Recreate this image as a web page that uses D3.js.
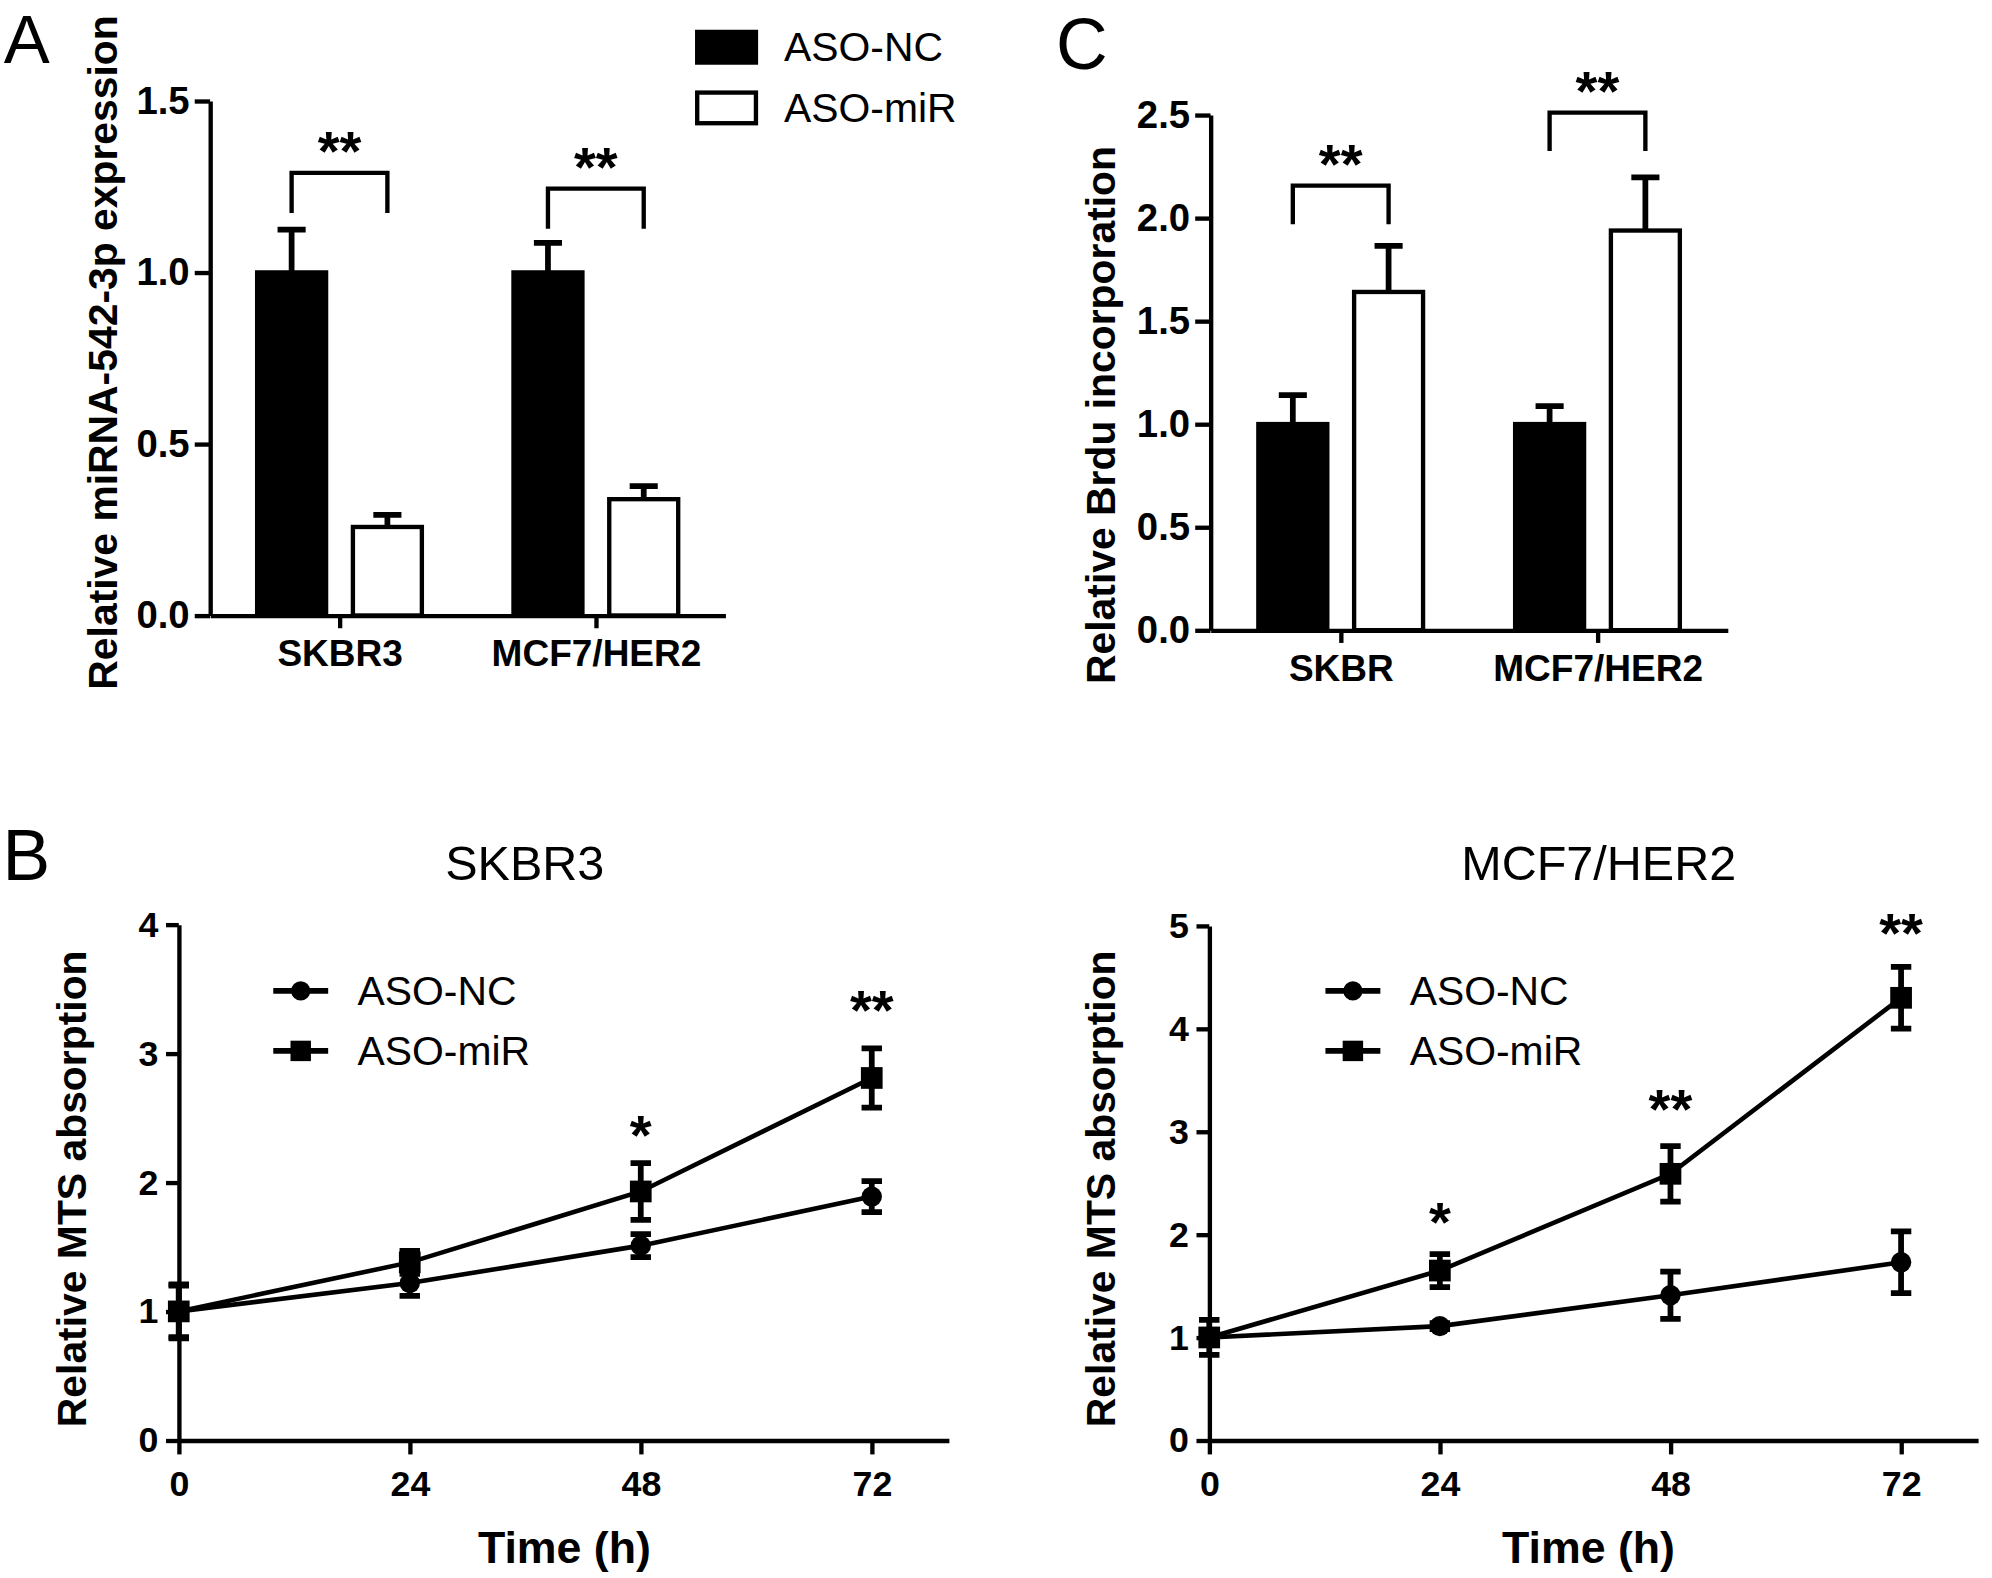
<!DOCTYPE html>
<html>
<head>
<meta charset="utf-8">
<script src="https://cdn.jsdelivr.net/npm/d3@7"></script>
<style>
  html, body { margin: 0; padding: 0; background: #fff; }
  svg { display: block; }
</style>
</head>
<body>
<svg id="chart"></svg>
<script>
// ---- data ----
const seriesNames = ["ASO-NC", "ASO-miR"];

// panel A: relative miRNA-542-3p expression
const aCategories = ["SKBR3", "MCF7/HER2"];
const aNcMean = [1.0, 1.0];
const aNcErr = [0.125, 0.086];
const aMirMean = [0.258, 0.339];
const aMirErr = [0.035, 0.038];
const aTicks = [0, 0.5, 1.0, 1.5];
const aBracketTop = [1.29, 1.244];
const aBracketLeg = [1.173, 1.127];
const aSig = ["**", "**"];

// panel C: relative Brdu incorporation
const cCategories = ["SKBR", "MCF7/HER2"];
const cNcMean = [1.0, 1.0];
const cNcErr = [0.14, 0.087];
const cMirMean = [1.641, 1.939];
const cMirErr = [0.224, 0.258];
const cTicks = [0, 0.5, 1.0, 1.5, 2.0, 2.5];
const cBracketTop = [2.157, 2.511];
const cBracketLeg = [1.969, 2.325];
const cSig = ["**", "**"];

// panel B: MTS absorption over time
const hours = [0, 24, 48, 72];
const skNcMean = [1.0, 1.22, 1.51, 1.89];
const skNcErr = [0.21, 0.10, 0.09, 0.12];
const skMirMean = [1.0, 1.38, 1.93, 2.81];
const skMirErr = [0.20, 0.09, 0.22, 0.23];
const skSig = ["", "", "*", "**"];
const skSigAt = [0, 0, 2.40, 3.37];
const skTicks = [0, 1, 2, 3, 4];

const mcNcMean = [1.0, 1.11, 1.41, 1.73];
const mcNcErr = [0.05, 0.03, 0.23, 0.30];
const mcMirMean = [1.0, 1.65, 2.59, 4.30];
const mcMirErr = [0.17, 0.16, 0.27, 0.30];
const mcSig = ["", "*", "**", "**"];
const mcSigAt = [0, 2.16, 3.26, 4.97];
const mcTicks = [0, 1, 2, 3, 4, 5];

// ---- drawing ----
const FONT = "'Liberation Sans', Arial, Helvetica, sans-serif";
const VW = 1560, VH = 1560 * 1578 / 1992;
const LW = 3.4;

const svg = d3.select("#chart")
    .attr("width", 1992)
    .attr("height", 1578)
    .attr("viewBox", "0 0 " + VW + " " + VH);

function styleAxis(sel, fs) {
    sel.attr("font-family", FONT);
    sel.select(".domain").attr("stroke", "#000").attr("stroke-width", LW);
    sel.selectAll(".tick line").attr("stroke", "#000").attr("stroke-width", LW);
    sel.selectAll(".tick text")
        .attr("fill", "#000")
        .attr("font-size", fs)
        .attr("font-weight", "bold")
        .attr("font-family", FONT);
}

function addText(x, y, txt, size, weight, anchor) {
    return svg.append("text")
        .attr("x", x).attr("y", y)
        .attr("font-family", FONT)
        .attr("font-size", size)
        .attr("font-weight", weight || "normal")
        .attr("text-anchor", anchor || "start")
        .text(txt);
}

function addYLabel(x, y, txt) {
    svg.append("text")
        .attr("transform", "translate(" + x + "," + y + ") rotate(-90)")
        .attr("font-family", FONT)
        .attr("font-size", 32)
        .attr("font-weight", "bold")
        .attr("text-anchor", "middle")
        .attr("dominant-baseline", "central")
        .text(txt);
}

function drawBarPanel(p) {
    const y = d3.scaleLinear().domain(p.yDomain).range(p.yRange);
    const x = d3.scalePoint().domain(p.categories).range(p.xRange).padding(p.pad);
    const g = svg.append("g");
    const off = 37.5, bw = 54, cap = 11;

    const rows = p.categories.map((c, i) => ({
        c: c,
        vals: [
            {mean: p.ncMean[i], err: p.ncErr[i], fill: "#000", dx: -off},
            {mean: p.mirMean[i], err: p.mirErr[i], fill: "#fff", dx: off}
        ],
        top: p.bracketTop[i], leg: p.bracketLeg[i], sig: p.sig[i]
    }));

    const bars = g.selectAll("g.grp").data(rows).enter().append("g").attr("class", "grp");

    bars.selectAll("rect").data(d => d.vals.map(v => ({...v, c: d.c}))).enter().append("rect")
        .attr("x", d => x(d.c) + d.dx - bw / 2)
        .attr("width", bw)
        .attr("y", d => y(d.mean))
        .attr("height", d => y(0) - y(d.mean))
        .attr("fill", d => d.fill)
        .attr("stroke", "#000")
        .attr("stroke-width", LW);

    bars.selectAll("path.err").data(d => d.vals.map(v => ({...v, c: d.c}))).enter().append("path")
        .attr("class", "err")
        .attr("d", d => {
            const cx = x(d.c) + d.dx;
            return "M" + cx + "," + y(d.mean) + "V" + y(d.mean + d.err) +
                   "M" + (cx - cap) + "," + y(d.mean + d.err) + "H" + (cx + cap);
        })
        .attr("stroke", "#000").attr("stroke-width", 4.5).attr("fill", "none");

    // significance brackets
    bars.append("path")
        .attr("d", d => {
            const x1 = x(d.c) - off, x2 = x(d.c) + off;
            return "M" + x1 + "," + y(d.leg) + "V" + y(d.top) + "H" + x2 + "V" + y(d.leg);
        })
        .attr("stroke", "#000").attr("stroke-width", LW).attr("fill", "none");

    bars.append("text")
        .attr("x", d => x(d.c))
        .attr("y", d => y(d.top) - 2)
        .attr("text-anchor", "middle")
        .attr("font-family", FONT)
        .attr("font-weight", "bold")
        .attr("font-size", 44)
        .text(d => d.sig);

    g.append("g")
        .attr("transform", "translate(" + p.xRange[0] + ",0)")
        .call(d3.axisLeft(y).tickValues(p.ticks).tickFormat(d3.format(".1f"))
              .tickSize(12).tickSizeOuter(0).tickPadding(4))
        .call(styleAxis, 30);

    g.append("g")
        .attr("transform", "translate(0," + p.yRange[0] + ")")
        .call(d3.axisBottom(x).tickSize(10).tickSizeOuter(0).tickPadding(9))
        .call(styleAxis, 29);
}

function drawMarker(sel, shape, size) {
    if (shape === "circle") {
        sel.append("circle").attr("r", size / 2).attr("fill", "#000");
    } else {
        sel.append("rect").attr("x", -size / 2).attr("y", -size / 2)
            .attr("width", size).attr("height", size).attr("fill", "#000");
    }
}

function drawLinePanel(p) {
    const x = d3.scaleLinear().domain([0, 80]).range(p.xRange);
    const y = d3.scaleLinear().domain([0, d3.max(p.ticks)]).range(p.yRange);
    const g = svg.append("g");
    const cap = 8;

    const series = [
        {name: seriesNames[0], mean: p.ncMean, err: p.ncErr, shape: "circle", size: 16},
        {name: seriesNames[1], mean: p.mirMean, err: p.mirErr, shape: "square", size: 17}
    ];

    g.append("g")
        .attr("transform", "translate(" + p.xRange[0] + ",0)")
        .call(d3.axisLeft(y).tickValues(p.ticks).tickFormat(d3.format("d"))
              .tickSize(10).tickSizeOuter(0).tickPadding(6))
        .call(styleAxis, 28);

    g.append("g")
        .attr("transform", "translate(0," + p.yRange[0] + ")")
        .call(d3.axisBottom(x).tickValues(hours).tickFormat(d3.format("d"))
              .tickSize(11).tickSizeOuter(0).tickPadding(13))
        .call(styleAxis, 28);

    const line = d3.line().x((d, i) => x(hours[i])).y(d => y(d));

    series.forEach(s => {
        g.append("path")
            .attr("d", line(s.mean))
            .attr("fill", "none").attr("stroke", "#000").attr("stroke-width", 3.6);
    });

    series.forEach(s => {
        const pts = hours.map((h, i) => ({h: h, m: s.mean[i], e: s.err[i]}));
        g.selectAll(null).data(pts).enter().append("path")
            .attr("d", d => {
                const cx = x(d.h), lo = y(d.m - d.e), hi = y(d.m + d.e);
                return "M" + cx + "," + lo + "V" + hi +
                       "M" + (cx - cap) + "," + lo + "H" + (cx + cap) +
                       "M" + (cx - cap) + "," + hi + "H" + (cx + cap);
            })
            .attr("stroke", "#000").attr("stroke-width", 4.5).attr("fill", "none");
        const mk = g.selectAll(null).data(pts).enter().append("g")
            .attr("transform", d => "translate(" + x(d.h) + "," + y(d.m) + ")");
        drawMarker(mk, s.shape, s.size);
    });

    // significance stars over the upper series
    g.selectAll(null).data(hours.map((h, i) => ({h: h, at: p.sigAt[i], s: p.sig[i]})).filter(d => d.s))
        .enter().append("text")
        .attr("x", d => x(d.h))
        .attr("y", d => y(d.at) + 18)
        .attr("text-anchor", "middle")
        .attr("font-family", FONT)
        .attr("font-weight", "bold")
        .attr("font-size", 44)
        .text(d => d.s);

    // legend
    series.forEach((s, i) => {
        const ly = p.legendY + i * 47;
        const lg = g.append("g").attr("transform", "translate(" + p.legendX + "," + ly + ")");
        lg.append("line").attr("x1", 0).attr("x2", 43).attr("stroke", "#000").attr("stroke-width", 4.5);
        const m = lg.append("g").attr("transform", "translate(21.5,0)");
        drawMarker(m, s.shape, s.size - 1);
        lg.append("text")
            .attr("x", 66).attr("y", 0)
            .attr("dominant-baseline", "central")
            .attr("font-family", FONT).attr("font-size", 32)
            .text(s.name);
    });

    addText(p.titleX, 689, p.title, 38, "normal", "middle");
    addText(p.xLabelX, 1224, "Time (h)", 35, "bold", "middle");
}

// panel letters
addText(3, 49, "A", 54);
addText(827, 54, "C", 56);
addText(2, 689, "B", 56);

// panel A
drawBarPanel({
    categories: aCategories, ncMean: aNcMean, ncErr: aNcErr, mirMean: aMirMean, mirErr: aMirErr,
    ticks: aTicks, bracketTop: aBracketTop, bracketLeg: aBracketLeg, sig: aSig,
    yDomain: [0, 1.5], yRange: [482, 79], xRange: [164.5, 568], pad: 0.505
});
addYLabel(81, 276, "Relative miRNA-542-3p expression");

// legend for A
const legA = svg.append("g").attr("transform", "translate(546,25)");
seriesNames.forEach((n, i) => {
    legA.append("rect")
        .attr("x", 0).attr("y", i * 47.5)
        .attr("width", 46).attr("height", 24)
        .attr("fill", i === 0 ? "#000" : "#fff")
        .attr("stroke", "#000").attr("stroke-width", LW);
    legA.append("text")
        .attr("x", 68).attr("y", i * 47.5 + 12)
        .attr("dominant-baseline", "central")
        .attr("font-family", FONT).attr("font-size", 32)
        .text(n);
});

// panel C
drawBarPanel({
    categories: cCategories, ncMean: cNcMean, ncErr: cNcErr, mirMean: cMirMean, mirErr: cMirErr,
    ticks: cTicks, bracketTop: cBracketTop, bracketLeg: cBracketLeg, sig: cSig,
    yDomain: [0, 2.5], yRange: [493.5, 90], xRange: [948, 1353], pad: 0.507
});
addYLabel(862, 325, "Relative Brdu incorporation");

// panel B
drawLinePanel({
    ncMean: skNcMean, ncErr: skNcErr, mirMean: skMirMean, mirErr: skMirErr,
    sig: skSig, sigAt: skSigAt, ticks: skTicks,
    xRange: [140, 743], yRange: [1128, 724], legendX: 214, legendY: 776,
    title: "SKBR3", titleX: 411, xLabelX: 442
});
addYLabel(56, 931, "Relative MTS absorption");

drawLinePanel({
    ncMean: mcNcMean, ncErr: mcNcErr, mirMean: mcMirMean, mirErr: mcMirErr,
    sig: mcSig, sigAt: mcSigAt, ticks: mcTicks,
    xRange: [947, 1549], yRange: [1128, 725], legendX: 1038, legendY: 776,
    title: "MCF7/HER2", titleX: 1252, xLabelX: 1244
});
addYLabel(862, 931, "Relative MTS absorption");
</script>
</body>
</html>
